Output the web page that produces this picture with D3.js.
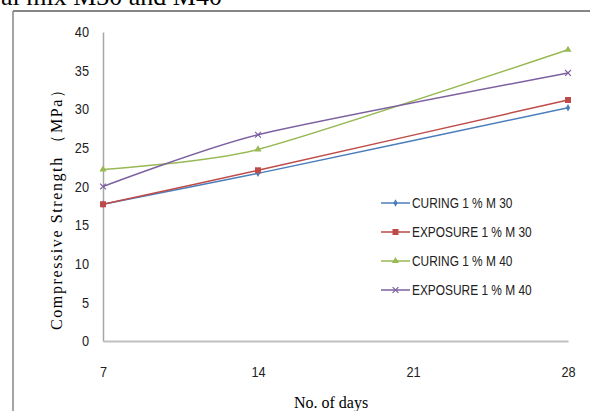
<!DOCTYPE html>
<html>
<head>
<meta charset="utf-8">
<script src="https://cdn.jsdelivr.net/npm/d3@7"></script>
<style>
html,body{margin:0;padding:0;background:#fff;}
svg{display:block;}
</style>
</head>
<body>
<script>
const days = [7, 14, 28];
const xTicks = [7, 14, 21, 28];
const yTicks = [0, 5, 10, 15, 20, 25, 30, 35, 40];
const seriesNames = ["CURING 1 % M 30", "EXPOSURE 1 % M 30", "CURING 1 % M 40", "EXPOSURE 1 % M 40"];
const curingM30 = [17.7, 21.7, 30.2];
const exposureM30 = [17.7, 22.1, 31.2];
const curingM40 = [22.2, 24.8, 37.7];
const exposureM40 = [20.0, 26.7, 34.7];
const seriesValues = [curingM30, exposureM30, curingM40, exposureM40];
const colors = ["#4A7EBB", "#BE4B48", "#98B954", "#7D60A0"];
const markers = ["diamond", "square", "triangle", "x"];

const W = 590, H = 411;
const svg = d3.select("body").append("svg").attr("width", W).attr("height", H);

// partial caption above (cut off at the top as in the source)
svg.append("text").attr("x", 222).attr("y", 5).attr("text-anchor", "end")
  .attr("font-family", "Liberation Serif, Times New Roman, serif").attr("font-size", 26)
  .attr("fill", "#000").text("al mix M30 and M40");

// frame
svg.append("line").attr("x1", 13).attr("x2", W).attr("y1", 11).attr("y2", 11)
  .attr("stroke", "#868686").attr("stroke-width", 2);
svg.append("line").attr("x1", 13).attr("x2", 13).attr("y1", 11).attr("y2", H)
  .attr("stroke", "#868686").attr("stroke-width", 1.5);

const x = d3.scaleLinear().domain([7, 28]).range([103, 568]);
const y = d3.scaleLinear().domain([0, 40]).range([341, 32]);

const sans = "Liberation Sans, Arial, sans-serif";

function condense(sel, factor) {
  sel.each(function () {
    const len = this.getComputedTextLength();
    d3.select(this).attr("textLength", len * factor).attr("lengthAdjust", "spacingAndGlyphs");
  });
}

// axes
const yAxis = svg.append("g").attr("transform", `translate(${x(7)},0)`)
  .call(d3.axisLeft(y).tickValues(yTicks).tickSize(0).tickPadding(14));
yAxis.select(".domain").attr("stroke", "#A6A6A6").attr("stroke-width", 1.5);
yAxis.selectAll("text").attr("font-family", sans).attr("font-size", 14.5).attr("fill", "#222");
condense(yAxis.selectAll("text"), 0.88);

const xAxis = svg.append("g").attr("transform", `translate(0,${y(0)})`)
  .call(d3.axisBottom(x).tickValues(xTicks).tickSize(0).tickPadding(25));
xAxis.select(".domain").attr("stroke", "#BFBFBF").attr("stroke-width", 2);
xAxis.selectAll("text").attr("font-family", sans).attr("font-size", 15).attr("fill", "#222");
condense(xAxis.selectAll("text"), 0.85);

// axis titles
svg.append("text").attr("x", 331).attr("y", 408).attr("text-anchor", "middle")
  .attr("font-family", "Liberation Serif, Times New Roman, serif").attr("font-size", 16)
  .attr("fill", "#000").text("No. of days");
svg.append("text").attr("transform", "translate(62,206) rotate(-90)")
  .attr("text-anchor", "middle")
  .attr("font-family", "Liberation Serif, Times New Roman, serif").attr("font-size", 16)
  .attr("textLength", 248).attr("lengthAdjust", "spacing")
  .attr("fill", "#000").text("Compressive Strength （MPa）");

function drawMarker(g, type, cx, cy, color) {
  if (type === "diamond") {
    g.append("path").attr("d", d3.symbol(d3.symbolDiamond, 16)()).attr("transform", `translate(${cx},${cy})`).attr("fill", color);
  } else if (type === "square") {
    g.append("path").attr("d", d3.symbol(d3.symbolSquare, 36)()).attr("transform", `translate(${cx},${cy})`).attr("fill", color);
  } else if (type === "triangle") {
    g.append("path").attr("d", d3.symbol(d3.symbolTriangle, 22)()).attr("transform", `translate(${cx},${cy})`).attr("fill", color);
  } else {
    g.append("path").attr("d", d3.symbol(d3.symbolX, 24)()).attr("transform", `translate(${cx},${cy})`)
      .attr("fill", "none").attr("stroke", color).attr("stroke-width", 1.2);
  }
}

const line = d3.line().x(d => x(d[0])).y(d => y(d[1])).curve(d3.curveCardinal.tension(0.35));

seriesValues.forEach((vals, i) => {
  const pts = days.map((d, j) => [d, vals[j]]);
  const g = svg.append("g");
  g.append("path").attr("d", line(pts)).attr("fill", "none")
    .attr("stroke", colors[i]).attr("stroke-width", 1.5);
  pts.forEach(p => drawMarker(g, markers[i], x(p[0]), y(p[1]), colors[i]));
});

// legend
const legend = svg.append("g");
seriesNames.forEach((name, i) => {
  const ly = 203 + i * 29;
  legend.append("line").attr("x1", 381).attr("x2", 410).attr("y1", ly).attr("y2", ly)
    .attr("stroke", colors[i]).attr("stroke-width", 1.5);
  drawMarker(legend, markers[i], 395.5, ly, colors[i]);
  legend.append("text").attr("x", 412).attr("y", ly + 5).attr("font-family", sans)
    .attr("font-size", 14.5).attr("fill", "#222").text(name);
});
condense(legend.selectAll("text"), 0.82);
</script>
</body>
</html>
